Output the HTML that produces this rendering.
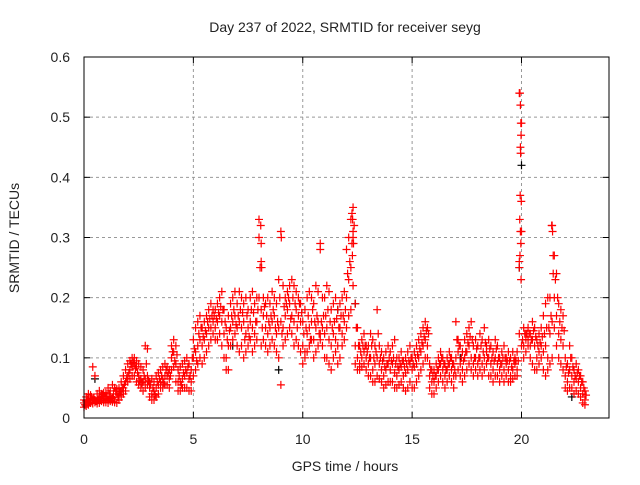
<!DOCTYPE html>
<html><head><meta charset="utf-8"><style>
body{margin:0;background:#fff;}
svg text{font-family:"Liberation Sans",sans-serif;fill:#222;}
</style></head><body>
<svg id="chart" width="640" height="480" xmlns="http://www.w3.org/2000/svg">
<text x="345" y="32" font-size="14" text-anchor="middle">Day 237 of 2022, SRMTID for receiver seyg</text>
<g id="grid"></g>
<g id="marks"></g>
<rect x="84" y="57" width="525" height="361" fill="none" stroke="#000" stroke-width="1"/>
<g id="ticks"></g>
<text x="345" y="471" font-size="14" text-anchor="middle">GPS time / hours</text>
<text transform="translate(19,238) rotate(-90)" font-size="14" text-anchor="middle">SRMTID / TECUs</text>
</svg>
<script>
const xTicks=[0,5,10,15,20];
const yTicks=[0,0.1,0.2,0.3,0.4,0.5,0.6];
const yTickLabels=["0","0.1","0.2","0.3","0.4","0.5","0.6"];
const startHour=0, stepHour=0.1;
const seriesA=[.025,.028,.03,.032,.03,.03,.028,.033,.035,.03,
.032,.03,.035,.033,.03,.04,.038,.045,.05,.06,
.07,.08,.085,.09,.085,.07,.065,.06,.065,.07,
.05,.04,.045,.05,.055,.06,.065,.07,.07,.065,
.1,.11,.09,.06,.06,.065,.07,.075,.065,.06,
.1,.11,.12,.13,.12,.13,.14,.15,.15,.16,
.15,.16,.17,.16,.14,.1,.12,.15,.16,.17,
.15,.16,.15,.16,.14,.15,.16,.15,.14,.16,
.2,.18,.17,.15,.14,.15,.16,.17,.14,.15,
.16,.15,.17,.18,.19,.17,.16,.18,.17,.16,
.12,.11,.14,.15,.16,.13,.15,.16,.14,.15,
.14,.15,.13,.12,.14,.13,.12,.15,.14,.16,
.2,.23,.25,.3,.12,.1,.09,.1,.11,.1,
.09,.1,.08,.09,.1,.09,.08,.07,.08,.09,
.08,.09,.075,.07,.08,.085,.07,.075,.08,.09,
.08,.085,.09,.1,.11,.12,.13,.12,.07,.06,
.06,.07,.08,.09,.08,.07,.08,.09,.08,.07,
.1,.11,.09,.08,.1,.11,.12,.1,.09,.1,
.09,.1,.09,.1,.11,.1,.09,.08,.1,.09,
.08,.09,.08,.09,.08,.07,.08,.09,.08,.14,
.12,.12,.13,.13,.12,.13,.12,.1,.11,.12,
.11,.12,.1,.14,.16,.2,.17,.14,.13,.12,
.07,.06,.08,.07,.06,.065,.06,.05,.04,.03];
const seriesB=[.03,.035,.04,.038,.085,.07,.04,.045,.04,.042,
.042,.05,.045,.055,.05,.048,.05,.06,.07,.08,
.09,.095,.1,.1,.095,.09,.085,.08,.12,.115,
.06,.065,.06,.07,.075,.08,.085,.09,.085,.08,
.12,.13,.12,.08,.085,.09,.095,.1,.09,.08,
.13,.15,.16,.17,.15,.16,.17,.18,.19,.18,
.18,.19,.2,.21,.18,.15,.17,.19,.2,.21,
.19,.21,.2,.19,.2,.18,.2,.21,.19,.2,
.33,.26,.2,.19,.2,.19,.21,.2,.19,.23,
.31,.22,.2,.21,.22,.23,.22,.21,.2,.19,
.16,.18,.2,.21,.2,.19,.22,.21,.29,.2,
.2,.22,.21,.18,.19,.2,.18,.19,.2,.21,
.28,.3,.33,.35,.19,.15,.12,.13,.14,.12,
.12,.14,.13,.12,.18,.12,.11,.1,.11,.12,
.11,.12,.13,.1,.1,.11,.095,.1,.11,.12,
.1,.11,.12,.13,.14,.15,.16,.15,.09,.08,
.08,.09,.1,.11,.1,.09,.1,.11,.1,.09,
.16,.13,.12,.11,.13,.14,.15,.16,.12,.13,
.12,.14,.13,.15,.12,.13,.12,.11,.13,.12,
.1,.11,.12,.1,.11,.1,.11,.1,.11,.54,
.49,.15,.14,.15,.14,.16,.15,.13,.14,.15,
.17,.19,.2,.2,.32,.27,.24,.19,.18,.17,
.1,.09,.12,.1,.08,.09,.08,.07,.06,.045];
const seriesC=[.018,.02,.022,.025,.024,.026,.024,.025,.028,.026,
.026,.025,.028,.027,.026,.025,.03,.035,.04,.045,
.06,.065,.07,.07,.06,.055,.05,.045,.05,.055,
.035,.03,.03,.035,.04,.05,.05,.055,.055,.05,
.08,.085,.06,.045,.045,.05,.05,.05,.045,.045,
.07,.08,.09,.1,.09,.1,.11,.12,.13,.14,
.13,.13,.14,.12,.1,.08,.08,.12,.13,.14,
.12,.11,.12,.1,.11,.12,.13,.11,.12,.13,
.3,.12,.13,.12,.11,.12,.13,.12,.11,.1,
.055,.12,.13,.14,.15,.14,.12,.13,.12,.11,
.09,.1,.11,.12,.13,.1,.11,.12,.13,.12,
.1,.1,.09,.08,.1,.11,.09,.1,.12,.13,
.15,.17,.18,.22,.09,.08,.08,.085,.09,.08,
.07,.07,.06,.06,.07,.065,.06,.05,.055,.06,
.06,.06,.05,.05,.055,.06,.05,.045,.05,.06,
.05,.05,.06,.07,.08,.09,.1,.1,.05,.04,
.04,.05,.06,.07,.06,.05,.06,.07,.06,.05,
.07,.08,.07,.06,.07,.08,.09,.08,.07,.08,
.07,.08,.07,.08,.09,.07,.07,.06,.07,.07,
.06,.07,.06,.07,.06,.06,.065,.07,.07,.25,
.31,.1,.11,.12,.1,.09,.08,.08,.09,.1,
.08,.07,.08,.09,.1,.15,.12,.1,.09,.08,
.05,.045,.05,.05,.04,.045,.04,.035,.025,.022];
const seriesD=[.022,.03,.027,.035,.033,.028,.031,.03,.038,.036,
.036,.04,.032,.04,.045,.035,.043,.05,.056,.066,
.075,.09,.092,.082,.075,.062,.058,.07,.09,.062,
.055,.05,.038,.06,.065,.07,.058,.08,.075,.07,
.11,.095,.105,.07,.055,.075,.08,.085,.07,.1,
.115,.095,.14,.15,.135,.145,.16,.165,.17,.17,
.165,.175,.185,.18,.16,.13,.145,.17,.18,.155,
.17,.18,.175,.13,.17,.135,.18,.175,.16,.18,
.25,.15,.185,.17,.16,.17,.18,.15,.16,.2,
.14,.185,.19,.2,.165,.2,.19,.15,.19,.175,
.14,.15,.17,.13,.18,.16,.17,.14,.16,.17,
.17,.18,.16,.15,.16,.165,.15,.17,.17,.18,
.24,.26,.29,.32,.15,.12,.11,.12,.12,.11,
.1,.12,.1,.11,.14,.1,.095,.085,.09,.1,
.095,.1,.09,.085,.09,.095,.085,.09,.095,.1,
.09,.1,.105,.115,.125,.135,.145,.14,.08,.07,
.07,.08,.09,.1,.09,.08,.09,.1,.09,.08,
.13,.12,.1,.095,.11,.125,.135,.13,.1,.115,
.1,.12,.11,.125,.1,.115,.1,.095,.115,.1,
.09,.1,.1,.095,.095,.085,.095,.095,.095,.45,
.13,.14,.14,.14,.13,.145,.135,.12,.125,.135,
.14,.15,.15,.17,.24,.23,.2,.16,.15,.145,
.085,.075,.1,.085,.07,.075,.07,.06,.05,.038];
const spikeHours=[19.93,19.95,19.97,19.98,19.96,19.94,19.99,19.92,19.95,19.97,19.93,19.9,19.98,8.08,8.1,8.12,12.25,12.28,12.3,12.32,12.27,21.38,21.42,21.45,9.02,10.8];
const spikeVals=[.54,.52,.49,.47,.44,.37,.36,.33,.31,.29,.27,.26,.23,.32,.29,.25,.34,.33,.31,.29,.27,.32,.31,.27,.3,.28];
const blackHours=[0.5,6.8,8.9,11.6,12.4,17.2,19.9,20.0,22.3];
const blackVals=[.065,.12,.08,.18,.19,.1,.25,.42,.035];

const NS="http://www.w3.org/2000/svg";
const X=h=>84+h*(525/24);
const Y=v=>418-v*(361/0.6);
const grid=document.getElementById('grid'),ticks=document.getElementById('ticks'),marks=document.getElementById('marks');
function mk(tag,attrs,parent){const e=document.createElementNS(NS,tag);for(const k in attrs)e.setAttribute(k,attrs[k]);parent.appendChild(e);return e;}
xTicks.forEach(t=>{
  const x=X(t);
  if(t>0){const g=mk('line',{x1:x,x2:x,y1:57,y2:418,stroke:'#999','stroke-dasharray':'3,3'},grid);
  
  }
  const l=mk('text',{x:x,y:444,'font-size':14,'text-anchor':'middle'},ticks);l.textContent=t;
  
  
  mk('line',{x1:x,x2:x,y1:418,y2:412,stroke:'#000'},ticks);
  mk('line',{x1:x,x2:x,y1:57,y2:63,stroke:'#000'},ticks);
});
yTicks.forEach((t,i)=>{
  const y=Y(t);
  if(t>0&&t<0.6){const g=mk('line',{x1:84,x2:609,y1:y,y2:y,stroke:'#999','stroke-dasharray':'3,3'},grid);
  
  }
  const l=mk('text',{x:70,y:y+5,'font-size':14,'text-anchor':'end'},ticks);l.textContent=yTickLabels[i];
  
  
  mk('line',{x1:84,x2:90,y1:y,y2:y,stroke:'#000'},ticks);
  mk('line',{x1:609,x2:603,y1:y,y2:y,stroke:'#000'},ticks);
});
function plus(h,v,color){
  const x=X(h),y=Y(v);
  const p=mk('path',{d:`M${x-4},${y}H${x+4}M${x},${y-4}V${y+4}`,stroke:color,'stroke-width':1.2,fill:'none'},marks);
  
  
}
blackHours.forEach((h,i)=>plus(h,blackVals[i],'#000'));
[seriesA,seriesB,seriesC].forEach(s=>s.forEach((v,i)=>plus(startHour+i*stepHour,v,'#f00')));
seriesD.forEach((v,i)=>plus(startHour+(i+0.5)*stepHour,v,'#f00'));
spikeHours.forEach((h,i)=>plus(h,spikeVals[i],'#f00'));
</script>
</body></html>
